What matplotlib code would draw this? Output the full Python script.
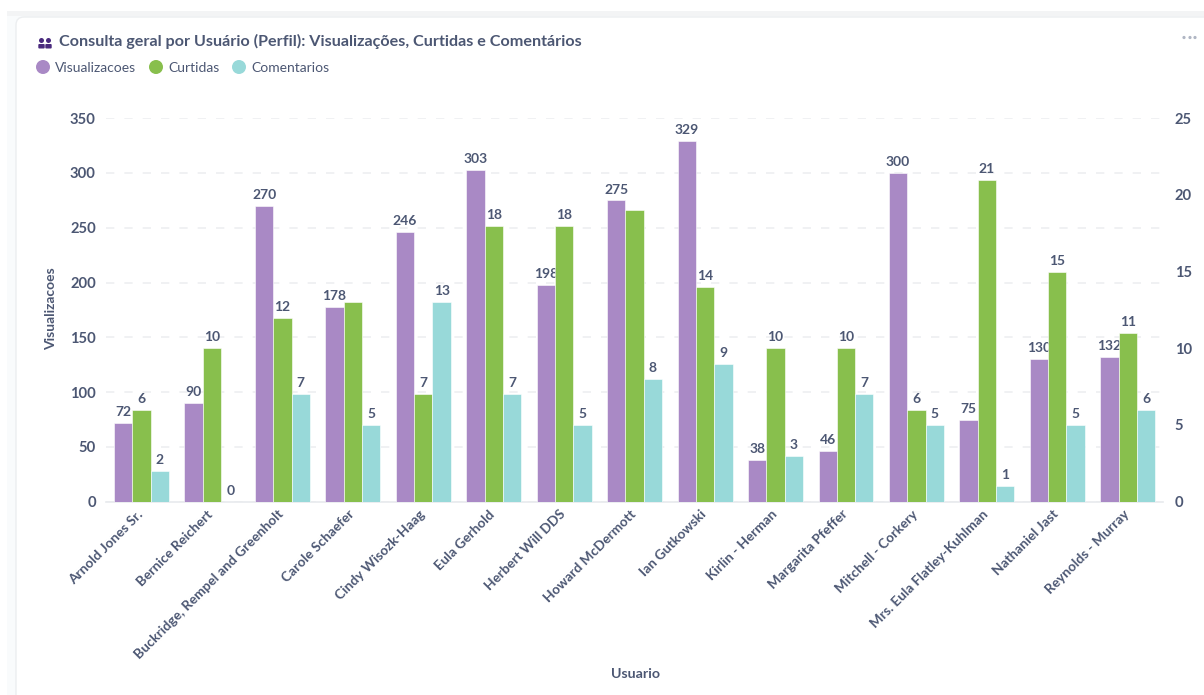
#!/usr/bin/python

import numpy as np
import matplotlib
matplotlib.use("Agg")
import matplotlib.pyplot as plt
from matplotlib.patches import FancyBboxPatch, Circle, Rectangle
from matplotlib.transforms import ScaledTranslation

plt.rcParams['font.family'] = ['Lato', 'DejaVu Sans']

usuarios = ["Arnold Jones Sr.", "Bernice Reichert", "Buckridge, Rempel and Greenholt",
            "Carole Schaefer", "Cindy Wisozk-Haag", "Eula Gerhold", "Herbert Will DDS",
            "Howard McDermott", "Ian Gutkowski", "Kirlin - Herman", "Margarita Pfeffer",
            "Mitchell - Corkery", "Mrs. Eula Flatley-Kuhlman", "Nathaniel Jast",
            "Reynolds - Murray"]
visualizacoes = [72, 90, 270, 178, 246, 303, 198, 275, 329, 38, 46, 300, 75, 130, 132]
curtidas = [6, 10, 12, 13, 7, 18, 18, 19, 14, 10, 10, 6, 21, 15, 11]
comentarios = [2, 0, 7, 5, 13, 7, 5, 8, 9, 3, 7, 5, 1, 5, 6]
# rotulos de curtidas que aparecem na imagem (Carole e Howard nao tem)
rotulo_curtidas = [6, 10, 12, None, 7, 18, 18, None, 14, 10, 10, 6, 21, 15, 11]

ticks_esq = [0, 50, 100, 150, 200, 250, 300, 350]
ticks_dir = [0, 5, 10, 15, 20, 25]

roxo = "#A989C5"
verde = "#88BF4D"
agua = "#98D9D9"
texto = "#4C5773"

W = 1204
H = 695
fig = plt.figure(figsize=(W/100, H/100), dpi=100, facecolor="#F9FBFC")

# fundo em coordenadas de pixel
fundo = fig.add_axes([0, 0, 1, 1])
fundo.set_xlim(0, W)
fundo.set_ylim(H, 0)
fundo.axis("off")
fundo.add_patch(Rectangle((0, 0), W, 11, fc="white", ec="none"))
fundo.add_patch(Rectangle((0, 0), 7, H, fc="white", ec="none"))
fundo.add_patch(Rectangle((7, 11), W, 5, fc="#F3F4F5", ec="none"))
fundo.add_patch(FancyBboxPatch((24, 25), W+40, H, boxstyle="round,pad=8,rounding_size=8",
                               fc="white", ec="#ECEEF0", lw=1))

# icone de usuarios
cor_icone = "#4A2A7E"
for cx in [41.5, 48.5]:
    fundo.add_patch(Circle((cx, 40.5), 2.5, fc=cor_icone, ec="none"))
    fundo.add_patch(FancyBboxPatch((cx-2.2, 45), 4.4, 2.5, boxstyle="round,pad=1,rounding_size=1",
                                   fc=cor_icone, ec="none"))

fig.text(59/W, 1-41.5/H, "Consulta geral por Usuário (Perfil): Visualizações, Curtidas e Comentários",
         fontsize=11.6, fontweight="bold", color=texto, va="center", ha="left")

# legenda manual
for x, nome, cor in [(43, "Visualizacoes", roxo), (156, "Curtidas", verde), (239, "Comentarios", agua)]:
    fundo.add_patch(Circle((x, 67), 7, fc=cor, ec="none"))
    fundo.text(x+12, 67.5, nome, fontsize=10, color=texto, va="center", ha="left")

for x in [1184, 1190, 1195]:
    fundo.add_patch(Circle((x, 37.5), 1.6, fc="#B0B6C4", ec="none"))

ax = fig.add_axes([106.3/W, 1-501.7/H, (1163/W-106.3/W), (501.7-118.2)/H])
ax.patch.set_alpha(0)
ax2 = ax.twinx()
ax2.patch.set_alpha(0)

n = len(usuarios)
x = np.arange(n)
larg = 0.26

ax.bar(x-larg, visualizacoes, larg, color=roxo, ec="white", lw=0.4, zorder=3)
ax2.bar(x, curtidas, larg, color=verde, ec="white", lw=0.4, zorder=3)
ax2.bar(x+larg, comentarios, larg, color=agua, ec="white", lw=0.4, zorder=3)

ax.set_xlim(-0.5, n-0.5)
ax.set_ylim(0, 350)
ax2.set_ylim(0, 25)

ax.set_yticks(ticks_esq)
ax2.set_yticks(ticks_dir)
ax.grid(axis="y", color="#EEEFF1", lw=1.2, dashes=(5, 6), zorder=0)
ax.set_axisbelow(True)

for a in [ax, ax2]:
    for lado in ["top", "left", "right", "bottom"]:
        a.spines[lado].set_visible(False)
    a.tick_params(axis="both", length=0, labelsize=10.6, labelcolor=texto)
    for t in a.get_yticklabels():
        t.set_fontweight("bold")
ax.spines["bottom"].set_visible(True)
ax.spines["bottom"].set_color("#E8EAED")
ax.spines["bottom"].set_linewidth(1.2)
ax.tick_params(axis="y", pad=7.5)
ax2.tick_params(axis="y", pad=8.5)

ax.set_xticks(x)
ax.set_xticklabels(usuarios, rotation=45, ha="right", rotation_mode="anchor",
                   fontsize=9.8, fontweight="bold")
ax.tick_params(axis="x", pad=6)
desloca = ScaledTranslation(-5/100, 2/100, fig.dpi_scale_trans)
for t in ax.get_xticklabels():
    t.set_transform(t.get_transform() + desloca)

fig.text(51.5/W, 1-309/H, "Visualizacoes", rotation=90, fontsize=10, fontweight="bold",
         color=texto, ha="center", va="center")
fig.text(635/W, 1-674/H, "Usuario", fontsize=10.2, fontweight="bold",
         color=texto, ha="center", va="center")

# rotulos de dados
for i in range(n):
    ax.annotate(str(visualizacoes[i]), (x[i]-larg, visualizacoes[i]), xytext=(0, 3.5),
                textcoords="offset points", ha="center", va="bottom", fontsize=10,
                fontweight="bold", color=texto, zorder=6, annotation_clip=False)
    if rotulo_curtidas[i] is not None:
        ax2.annotate(str(rotulo_curtidas[i]), (x[i], curtidas[i]), xytext=(0, 3.5),
                     textcoords="offset points", ha="center", va="bottom", fontsize=10,
                     fontweight="bold", color=texto, zorder=6)
    ax2.annotate(str(comentarios[i]), (x[i]+larg, comentarios[i]), xytext=(0, 3.5),
                 textcoords="offset points", ha="center", va="bottom", fontsize=10,
                 fontweight="bold", color=texto, zorder=6)

fig.savefig("out.png", dpi=100, facecolor=fig.get_facecolor())
